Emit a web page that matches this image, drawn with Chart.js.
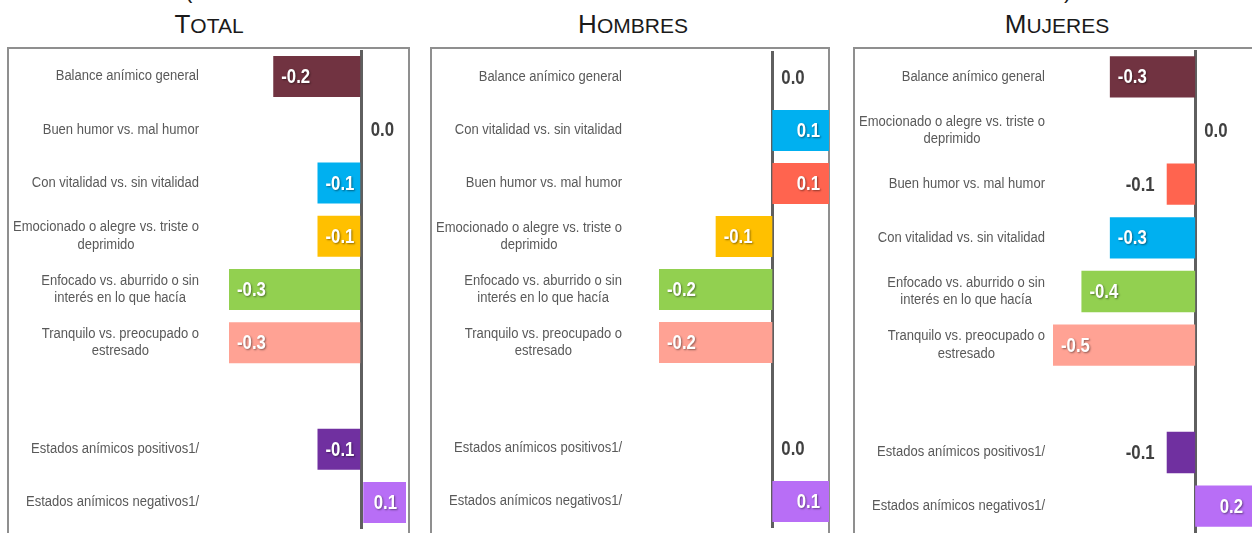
<!DOCTYPE html>
<html>

<head>
  <meta charset="utf-8">
  <title>Balance anímico por sexo</title>
  <script src="https://cdn.jsdelivr.net/npm/chart.js"></script>
  <style>
    body { margin: 0; width: 1252px; height: 533px; overflow: hidden; background: #fff; position: relative;
           font-family: "Liberation Sans", Arial, sans-serif; }
    .titulo { position: absolute; top: 11px; width: 300px; line-height: 26px; text-align: center; color: #1a1a1a; }
    .titulo .g { font-size: 26px; }
    .titulo .p { font-size: 21px; }
    .resto { position: absolute; top: -20px; font-size: 22px; line-height: 22px; color: #1a1a1a; }
    .marco { position: absolute; top: 47px; height: 520px; border: 2px solid #8f8f8f; box-sizing: border-box; }
    canvas { position: absolute; }
  </style>
</head>

<body>
  <div class="resto" style="left:185px">(</div>
  <div class="resto" style="left:1064px">)</div>
  <div class="titulo" style="left:59px"><span class="g">T</span><span class="p">OTAL</span></div>
  <div class="titulo" style="left:483px"><span class="g">H</span><span class="p">OMBRES</span></div>
  <div class="titulo" style="left:907px"><span class="g">M</span><span class="p">UJERES</span></div>

  <div class="marco" style="left:7px;width:403px"></div>
  <div class="marco" style="left:430px;width:400px"></div>
  <div class="marco" style="left:853px;width:403px"></div>

  <canvas id="total" width="402" height="500" style="left:7px;top:47px"></canvas>
  <canvas id="hombres" width="400" height="500" style="left:430px;top:47px"></canvas>
  <canvas id="mujeres" width="402" height="500" style="left:853px;top:47px"></canvas>

  <script>
    // datos de cada panel (la fila vacía separa los estados anímicos)
    var totalLabels = ['Balance anímico general', 'Buen humor vs. mal humor', 'Con vitalidad vs. sin vitalidad',
      ['Emocionado o alegre vs. triste o', 'deprimido'], ['Enfocado vs. aburrido o sin', 'interés en lo que hacía'],
      ['Tranquilo vs. preocupado o', 'estresado'], '', 'Estados anímicos positivos1/', 'Estados anímicos negativos1/'];
    var totalValues = [-0.2, 0.0, -0.1, -0.1, -0.3, -0.3, null, -0.1, 0.1];

    var hombresLabels = ['Balance anímico general', 'Con vitalidad vs. sin vitalidad', 'Buen humor vs. mal humor',
      ['Emocionado o alegre vs. triste o', 'deprimido'], ['Enfocado vs. aburrido o sin', 'interés en lo que hacía'],
      ['Tranquilo vs. preocupado o', 'estresado'], '', 'Estados anímicos positivos1/', 'Estados anímicos negativos1/'];
    var hombresValues = [0.0, 0.1, 0.1, -0.1, -0.2, -0.2, null, 0.0, 0.1];

    var mujeresLabels = ['Balance anímico general', ['Emocionado o alegre vs. triste o', 'deprimido'],
      'Buen humor vs. mal humor', 'Con vitalidad vs. sin vitalidad', ['Enfocado vs. aburrido o sin', 'interés en lo que hacía'],
      ['Tranquilo vs. preocupado o', 'estresado'], '', 'Estados anímicos positivos1/', 'Estados anímicos negativos1/'];
    var mujeresValues = [-0.3, 0.0, -0.1, -0.3, -0.4, -0.5, null, -0.1, 0.2];

    // color de cada categoría
    var colores = {
      'Balance anímico general': '#713341',
      'Buen humor vs. mal humor': '#ff644f',
      'Con vitalidad vs. sin vitalidad': '#00b0f0',
      'Emocionado o alegre vs. triste o deprimido': '#ffc000',
      'Enfocado vs. aburrido o sin interés en lo que hacía': '#92d050',
      'Tranquilo vs. preocupado o estresado': '#ffa294',
      'Estados anímicos positivos1/': '#7030a0',
      'Estados anímicos negativos1/': '#b86ef6'
    };

    function colorDe(lab) {
      return colores[[].concat(lab).join(' ')] || '#fff';
    }

    // etiquetas de categoría (líneas centradas, bloque alineado a la derecha) y valores
    var etiquetas = {
      id: 'etiquetas',
      afterDraw: function (chart, args, opts) {
        var ctx = chart.ctx;
        var ejeY = chart.scales.y;
        var valores = chart.data.datasets[0].data;
        var estrecho = 0.93;
        ctx.save();
        ctx.textBaseline = 'middle';
        ctx.font = '14px "Liberation Sans", Arial, sans-serif';
        ctx.fillStyle = '#595959';
        ctx.textAlign = 'center';
        var derecha = chart.chartArea.left - opts.gap;
        chart.data.labels.forEach(function (lab, i) {
          var lineas = [].concat(lab);
          var ancho = estrecho * Math.max.apply(null, lineas.map(function (t) { return ctx.measureText(t).width; }));
          var cy = ejeY.getPixelForTick(i);
          lineas.forEach(function (t, k) {
            ctx.save();
            ctx.translate(derecha - ancho / 2, cy + (k - (lineas.length - 1) / 2) * 17.5);
            ctx.scale(estrecho, 1);
            ctx.fillText(t, 0, 0);
            ctx.restore();
          });
        });

        ctx.font = 'bold 20px "Liberation Sans", Arial, sans-serif';
        chart.getDatasetMeta(0).data.forEach(function (bar, i) {
          var v = valores[i];
          if (v === null) return;
          var txt = v.toFixed(1);
          var largo = Math.abs(bar.x - bar.base);
          var x, alin, blanco = false;
          if (v === 0) { x = bar.base + 9; alin = 'left'; }
          else if (largo >= 40) {
            blanco = true;
            if (v < 0) { x = bar.x + 8; alin = 'left'; } else { x = bar.x - 9; alin = 'right'; }
          } else {
            if (v < 0) { x = bar.x - 12; alin = 'right'; } else { x = bar.x + 9; alin = 'left'; }
          }
          ctx.save();
          ctx.translate(x, bar.y + 1);
          ctx.scale(0.84, 1);
          ctx.textAlign = alin;
          if (blanco) {
            ctx.fillStyle = '#ffffff';
            ctx.shadowColor = 'rgba(0,0,0,0.45)';
            ctx.shadowOffsetX = 1;
            ctx.shadowOffsetY = 1;
            ctx.shadowBlur = 2;
          } else {
            ctx.fillStyle = '#404040';
          }
          ctx.fillText(txt, 0, 0);
          ctx.restore();
        });
        ctx.restore();
      }
    };

    function crearPanel(id, labels, values, min, max, anchoEje, gap, pad) {
      return new Chart(document.getElementById(id), {
        type: 'bar',
        data: {
          labels: labels,
          datasets: [{
            data: values,
            backgroundColor: labels.map(colorDe),
            barPercentage: 0.77,
            categoryPercentage: 1
          }]
        },
        options: {
          indexAxis: 'y',
          responsive: false,
          animation: false,
          layout: { padding: pad },
          plugins: {
            legend: { display: false },
            tooltip: { enabled: false },
            etiquetas: { gap: gap }
          },
          scales: {
            x: {
              min: min,
              max: max,
              z: 1,
              ticks: { display: false, stepSize: 0.1 },
              border: { display: false },
              grid: {
                drawTicks: false,
                lineWidth: 3,
                color: function (c) {
                  return c.tick && Math.abs(c.tick.value) < 1e-9 ? '#5f5f5f' : 'rgba(0,0,0,0)';
                }
              }
            },
            y: {
              ticks: { display: false },
              grid: { display: false },
              border: { display: false },
              afterFit: function (s) { s.width = anchoEje; }
            }
          }
        },
        plugins: [etiquetas]
      });
    }

    crearPanel('total', totalLabels, totalValues, -0.3, 0.1, 222, 30, { top: 3, bottom: 18, right: 3 });
    crearPanel('hombres', hombresLabels, hombresValues, -0.2, 0.1, 229, 37, { top: 4, bottom: 19, right: 1 });
    crearPanel('mujeres', mujeresLabels, mujeresValues, -0.5, 0.2, 200, 8, { top: 3, bottom: 14, right: 3 });
  </script>
</body>

</html>
